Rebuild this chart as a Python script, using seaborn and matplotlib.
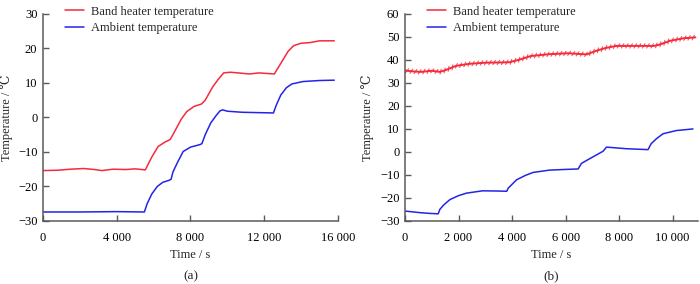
import numpy as np
import pandas as pd
import matplotlib
matplotlib.use('Agg')
import matplotlib.pyplot as plt
import matplotlib.patheffects as pe
from matplotlib.ticker import FuncFormatter
import seaborn as sns

# (a) readings
t_a_heater = [0, 800, 1500, 2200, 2800, 3200, 3800, 4500, 5000, 5550, 5900, 6250, 6600, 6900,
              7200, 7500, 7800, 8200, 8600, 8800, 9200, 9500, 9800, 10150, 10600, 11200, 11700,
              12550, 12800, 13050, 13300, 13600, 14000, 14500, 15000, 15800]
T_a_heater = [-15.4, -15.3, -15.0, -14.8, -15.1, -15.4, -15.0, -15.1, -14.9, -15.2, -11.5, -8.4,
              -7.2, -6.4, -3.5, -0.5, 1.7, 3.2, 3.9, 5.0, 8.8, 11.0, 12.9, 13.1, 12.9, 12.6, 12.9,
              12.6, 14.8, 17.0, 19.2, 20.8, 21.5, 21.7, 22.2, 22.2]
t_a_amb = [0, 2000, 4000, 5500, 5650, 5900, 6200, 6500, 6850, 6950, 7050, 7300, 7600, 8000, 8500,
           8620, 8800, 9100, 9400, 9600, 9750, 10000, 10800, 11600, 12500, 12650, 12900, 13200,
           13500, 14100, 15000, 15800]
T_a_amb = [-27.4, -27.4, -27.3, -27.4, -25.0, -22.2, -20.0, -18.8, -18.2, -17.9, -15.8, -13.0,
           -9.9, -8.6, -7.9, -7.6, -5.0, -1.6, 0.6, 1.9, 2.2, 1.8, 1.5, 1.4, 1.3, 3.5, 6.5, 8.6,
           9.7, 10.4, 10.7, 10.8]

# (b) readings
t_b_heater = [0, 300, 600, 1000, 1300, 1500, 1900, 2400, 3000, 3600, 3900, 4300, 4700, 5400, 6100,
              6500, 6800, 7100, 7500, 7900, 8600, 9300, 9500, 9900, 10400, 10850]
T_b_heater = [35.4, 35.0, 34.8, 35.3, 34.8, 35.5, 37.4, 38.3, 38.8, 38.9, 39.0, 40.2, 41.7, 42.5,
              42.9, 42.6, 42.4, 43.8, 45.2, 46.1, 46.1, 46.1, 46.6, 48.3, 49.4, 49.8]
t_b_amb = [0, 250, 560, 900, 1240, 1300, 1450, 1680, 2000, 2300, 2900, 3500, 3800, 3860, 4170,
           4500, 4790, 5400, 6000, 6470, 6590, 6800, 7030, 7400, 7530, 8270, 9080, 9200, 9400,
           9640, 10140, 10760]
T_b_amb = [-25.7, -26.0, -26.4, -26.7, -26.9, -25.0, -23.0, -20.7, -19.0, -17.9, -16.9, -17.0,
           -17.1, -15.7, -12.1, -10.2, -8.9, -7.9, -7.6, -7.4, -5.0, -3.6, -2.1, 0.3, 2.1, 1.4,
           1.0, 3.6, 5.8, 7.9, 9.3, 10.0]

series_names = ['Band heater temperature', 'Ambient temperature']
red = '#f52a3a'
blue = '#2424e8'
axis_gray = '#5a5a5a'

sns.set_style('ticks')
plt.rcParams['font.family'] = ['Liberation Serif', 'DejaVu Serif']
plt.rcParams['font.size'] = 9
plt.rcParams['axes.unicode_minus'] = True


def thousands(v, pos):
    return f'{int(round(v)):,}'.replace(',', ' ')


fig = plt.figure(figsize=(7, 2.84), dpi=100)
ax_a = fig.add_axes([0.0614, 0.222, 0.4214, 0.729])
ax_b = fig.add_axes([0.5786, 0.222, 0.4186, 0.729])

df_a = pd.concat([
    pd.DataFrame({'t': t_a_heater, 'T': T_a_heater, 's': series_names[0]}),
    pd.DataFrame({'t': t_a_amb, 'T': T_a_amb, 's': series_names[1]}),
])
df_b = pd.concat([
    pd.DataFrame({'t': t_b_heater, 'T': T_b_heater, 's': series_names[0]}),
    pd.DataFrame({'t': t_b_amb, 'T': T_b_amb, 's': series_names[1]}),
])
palette = {series_names[0]: red, series_names[1]: blue}

sns.lineplot(data=df_a, x='t', y='T', hue='s', palette=palette, lw=1.1, ax=ax_a,
             sort=False, estimator=None)
sns.lineplot(data=df_b, x='t', y='T', hue='s', palette=palette, lw=1.1, ax=ax_b,
             sort=False, estimator=None)

# jagged look of the heater trace in (b)
ax_b.lines[0].set_path_effects([
    pe.TickedStroke(spacing=3, angle=60, length=0.6, linewidth=0.8, alpha=0.8),
    pe.TickedStroke(spacing=3, angle=-120, length=0.6, linewidth=0.8, alpha=0.8),
    pe.Stroke(linewidth=1.4),
])

ax_a.set_xlim(0, 16000)
ax_a.set_ylim(-30, 30)
ax_a.set_xticks([0, 4000, 8000, 12000, 16000])
ax_a.set_yticks(range(-30, 31, 10))
ax_b.set_xlim(0, 10950)
ax_b.set_ylim(-30, 60)
ax_b.set_xticks(range(0, 10001, 2000))
ax_b.set_yticks(range(-30, 61, 10))

for ax, tag, xl in [(ax_a, '(a)', -0.10), (ax_b, '(b)', -0.106)]:
    sns.despine(ax=ax)
    for side in ['left', 'bottom']:
        ax.spines[side].set_color(axis_gray)
        ax.spines[side].set_linewidth(1.1)
    ax.tick_params(direction='in', length=4, width=1.0, color=axis_gray, labelsize=9,
                   colors='black')
    ax.tick_params(axis='x', pad=8)
    ax.tick_params(axis='y', pad=4)
    ax.xaxis.set_major_formatter(FuncFormatter(thousands))
    ax.set_xlabel('Time / s', fontsize=9)
    ax.set_ylabel('Temperature / ℃', fontsize=9)
    ax.xaxis.set_label_coords(0.5, -0.135)
    ax.yaxis.set_label_coords(xl, 0.5)
    ax.text(0.5, -0.265, tag, transform=ax.transAxes, ha='center', va='center', fontsize=9.5)
    ax.legend(loc='upper left', bbox_to_anchor=(0.075, 1.04), frameon=False, borderpad=0,
              handlelength=1.5, handletextpad=0.55, labelspacing=0.35, fontsize=9,
              borderaxespad=0)

fig.savefig('out.png', dpi=100)
